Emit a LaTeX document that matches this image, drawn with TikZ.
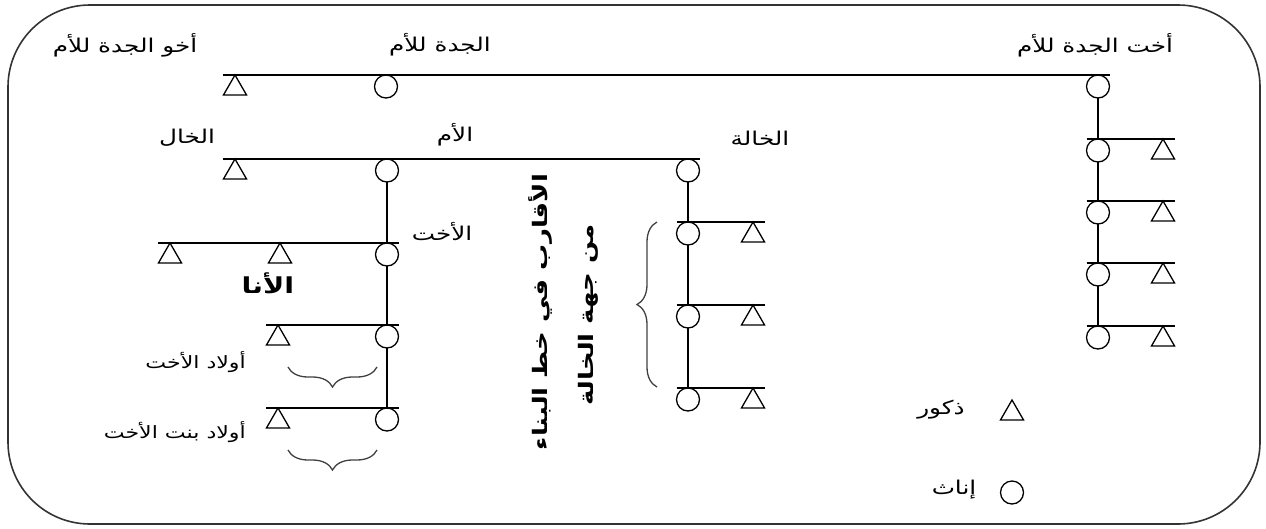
\documentclass[tikz,border=0pt]{standalone}
\usepackage{fontspec}
\usetikzlibrary{shapes.geometric,decorations.pathreplacing}
\newfontfamily\arabicfont[Script=Arabic,FakeStretch=1.3]{DejaVu Sans}
\TeXXeTstate=1
\tikzset{
  fem/.style={circle,draw,line width=1.3pt,minimum size=23pt,inner sep=0pt,outer sep=0pt,fill=white,anchor=north},
  mal/.style={regular polygon,regular polygon sides=3,draw,line width=1.3pt,minimum size=26.6pt,inner sep=0pt,outer sep=0pt,anchor=corner 1},
  lnk/.style={line width=1.3pt},
  lbl/.style={font=\arabicfont\fontsize{19}{22}\selectfont,inner sep=0pt},
  blbl/.style={font=\arabicfont\fontsize{17}{20}\selectfont,inner sep=0pt,anchor=east},
  vlbl/.style={font=\arabicfont\bfseries\fontsize{20}{24}\selectfont,inner sep=0pt,rotate=90},
  brc/.style={decorate,decoration={brace,amplitude=20pt},line width=1.3pt,draw=black!75},
}
\begin{document}
\begin{tikzpicture}[x=1pt,y=1pt]
\useasboundingbox (0,0) rectangle (1266,-528);
\draw[line width=1.6pt,draw=black!80,rounded corners=82pt] (8,-5) rectangle (1260,-524);

% generation 1
\node[mal] (gu) at (235,-75) {};
\node[fem] (gm) at (386,-75) {};
\node[fem] (ga) at (1098,-75) {};
\draw[lnk] (gu.corner 1 -| gu.corner 2) -- (ga.north -| ga.east);

% great-aunt's line
\node[fem] (ga1) at (1098,-139) {};
\node[fem] (ga2) at (1098,-201) {};
\node[fem] (ga3) at (1098,-263) {};
\node[fem] (ga4) at (1098,-326) {};
\node[mal] (gs1) at (1163,-139) {};
\node[mal] (gs2) at (1163,-201) {};
\node[mal] (gs3) at (1163,-263) {};
\node[mal] (gs4) at (1163,-326) {};
\draw[lnk] (ga.south) -- (ga1.north);
\draw[lnk] (ga1.south) -- (ga2.north);
\draw[lnk] (ga2.south) -- (ga3.north);
\draw[lnk] (ga3.south) -- (ga4.north);
\draw[lnk] (ga1.north -| ga1.west) -- (gs1.corner 1 -| gs1.corner 3);
\draw[lnk] (ga2.north -| ga2.west) -- (gs2.corner 1 -| gs2.corner 3);
\draw[lnk] (ga3.north -| ga3.west) -- (gs3.corner 1 -| gs3.corner 3);
\draw[lnk] (ga4.north -| ga4.west) -- (gs4.corner 1 -| gs4.corner 3);

% generation 2
\node[mal] (khal) at (235,-159) {};
\node[fem] (mom) at (387,-159) {};
\node[fem] (khala) at (688,-159) {};
\draw[lnk] (khal.corner 1 -| khal.corner 2) -- (khala.north -| khala.east);

% khala's line
\node[fem] (k1) at (688,-222) {};
\node[fem] (k2) at (688,-305) {};
\node[fem] (k3) at (688,-388) {};
\node[mal] (km1) at (753,-222) {};
\node[mal] (km2) at (753,-305) {};
\node[mal] (km3) at (753,-388) {};
\draw[lnk] (khala.south) -- (k1.north);
\draw[lnk] (k1.south) -- (k2.north);
\draw[lnk] (k2.south) -- (k3.north);
\draw[lnk] (k1.north -| k1.west) -- (km1.corner 1 -| km1.corner 3);
\draw[lnk] (k2.north -| k2.west) -- (km2.corner 1 -| km2.corner 3);
\draw[lnk] (k3.north -| k3.west) -- (km3.corner 1 -| km3.corner 3);

% generation 3
\node[mal] (bro) at (170,-243) {};
\node[mal] (ego) at (280,-243) {};
\node[fem] (sis) at (387,-243) {};
\draw[lnk] (bro.corner 1 -| bro.corner 2) -- (sis.north -| sis.east);
\draw[lnk] (mom.south) -- (sis.north);

% generation 4 and 5
\node[mal] (sm1) at (278,-325) {};
\node[fem] (sf1) at (387,-325) {};
\node[mal] (sm2) at (278,-408) {};
\node[fem] (sf2) at (387,-408) {};
\draw[lnk] (sis.south) -- (sf1.north);
\draw[lnk] (sf1.south) -- (sf2.north);
\draw[lnk] (sm1.corner 1 -| sm1.corner 2) -- (sf1.north -| sf1.east);
\draw[lnk] (sm2.corner 1 -| sm2.corner 2) -- (sf2.north -| sf2.east);

% braces
\coordinate (b1a) at (377,-367);
\coordinate (b1b) at (288,-367);
\coordinate (b2a) at (377,-450);
\coordinate (b2b) at (288,-450);
\coordinate (b3a) at (657,-387);
\coordinate (b3b) at (657,-222);
\draw[brc] (b1a) -- (b1b);
\draw[brc] (b2a) -- (b2b);
\draw[brc] (b3a) -- (b3b);

% legend
\node[mal] (lm) at (1012,-400) {};
\node[fem] (lf) at (1012,-481) {};
\node[lbl] (tlm) at (941,-410) {\beginR ذكور\endR};
\node[lbl] (tlf) at (954,-490) {\beginR إناث\endR};

% labels
\node[lbl] (t1) at (125,-45) {\beginR أخو الجدة للأم\endR};
\node[lbl] (t2) at (440,-45) {\beginR الجدة للأم\endR};
\node[lbl] (t3) at (1095,-45) {\beginR أخت الجدة للأم\endR};
\node[lbl] (t4) at (187,-138) {\beginR الخال\endR};
\node[lbl] (t5) at (455,-135) {\beginR الأم\endR};
\node[lbl] (t6) at (760,-138) {\beginR الخالة\endR};
\node[lbl] (t7) at (442,-232) {\beginR الأخت\endR};
\node[lbl,font=\arabicfont\bfseries\fontsize{22}{26}\selectfont] (t8) at (268,-283) {\beginR الأنا\endR};
\node[blbl] (t9) at (246,-362) {\beginR أولاد الأخت\endR};
\node[blbl] (t10) at (246,-432) {\beginR أولاد بنت الأخت\endR};
\node[vlbl] (t11) at (540,-312) {\beginR الأقارب في خط البناء\endR};
\node[vlbl] (t12) at (588,-315) {\beginR من جهة الخالة\endR};
\end{tikzpicture}
\end{document}
